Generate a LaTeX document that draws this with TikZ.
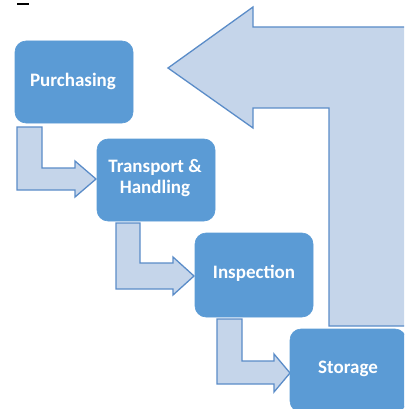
\documentclass[tikz,border=0pt]{standalone}
\usepackage{fontspec}
\setmainfont{Carlito}
\definecolor{boxblue}{HTML}{5B9BD5}
\definecolor{arrfill}{HTML}{C5D5EA}
\definecolor{arrline}{HTML}{5A8CC8}
\tikzset{
  stepbox/.style={fill=boxblue, draw=boxblue, rounded corners=11pt, line width=0.6pt},
  steptext/.style={text=white, font=\bfseries\fontsize{19}{21}\selectfont, align=center, inner sep=0pt},
  flowarrow/.style={fill=arrfill, draw=arrline, line width=1.3pt, line join=miter},
}
\begin{document}
\begin{tikzpicture}[x=1pt,y=-1pt]
\useasboundingbox (0,0) rectangle (404,409);
\clip (0,0) rectangle (404,409);
% small mark top-left
\draw[line width=2pt, black] (17,4) coordinate (m1) -- (29,4) coordinate (m2);
% big return arrow
\draw[flowarrow] (168,68) -- (253,7) -- (253,27) -- (412,27) -- (412,326) -- (329,326) -- (329,108) -- (253,108) -- (253,128) -- cycle;
% small L arrows
\draw[flowarrow] (17,127) -- (42,127) -- (42,168) -- (75,168) -- (75,161) -- (96,179) -- (75,197) -- (75,190) -- (17,190) -- cycle;
\draw[flowarrow] (116,223) -- (140,223) -- (140,263) -- (173,263) -- (173,257) -- (194,276) -- (173,295) -- (173,289) -- (116,289) -- cycle;
\draw[flowarrow] (217,319) -- (242,319) -- (242,361) -- (274,361) -- (274,354) -- (290,373) -- (274,392) -- (274,384) -- (217,384) -- cycle;
% boxes
\draw[stepbox] (15,41) rectangle (133,123);
\node[steptext] (purch) at (73,81) {Purchasing};
\draw[stepbox] (97,139) rectangle (215,221);
\node[steptext] (trans) at (155,178) {Transport \&\\Handling};
\draw[stepbox] (195,233) rectangle (313,317);
\node[steptext] (insp) at (254,273) {Inspection};
\draw[stepbox] (290,329) rectangle (406,412);
\node[steptext] (stor) at (348,369) {Storage};
\end{tikzpicture}
\end{document}
